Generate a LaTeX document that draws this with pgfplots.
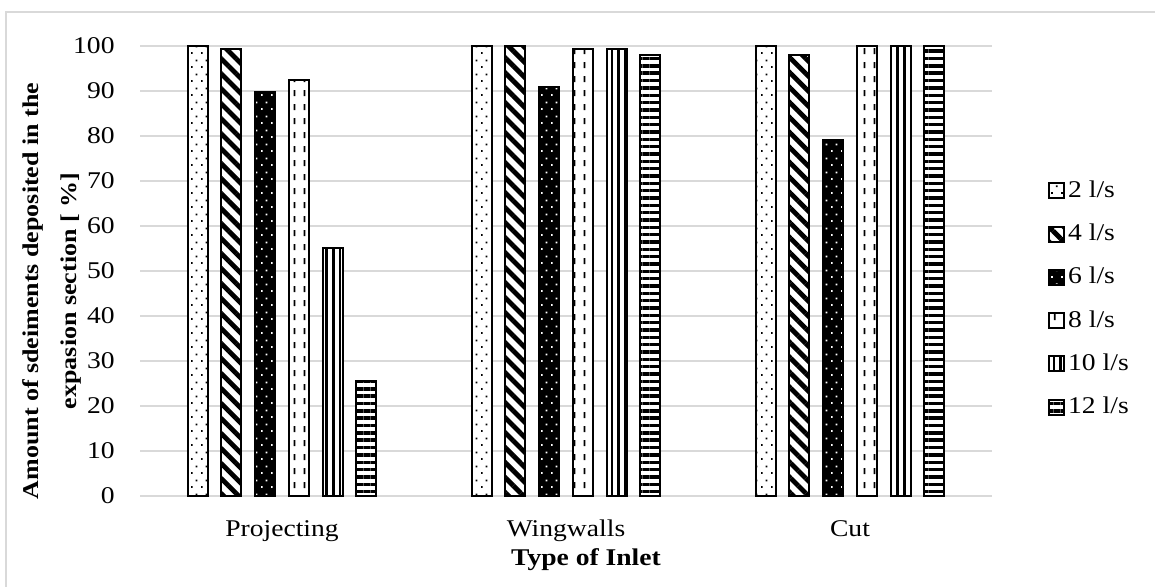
\documentclass[border=0pt]{standalone}
\usepackage{fontspec}
\setmainfont{Liberation Serif}[FakeStretch=1.15]
\usepackage{pgfplots}
\pgfplotsset{compat=1.18}
\usetikzlibrary{patterns.meta}
\definecolor{gridgray}{RGB}{217,217,217}

\tikzdeclarepattern{
  name=stagdots,
  type=uncolored,
  bounding box={(0pt,0pt) and (5pt,7pt)},
  tile size={(5pt,7pt)},
  code={
    \pgfpathrectangle{\pgfpoint{0.6pt}{0.6pt}}{\pgfpoint{0.9pt}{0.9pt}}
    \pgfpathrectangle{\pgfpoint{3.1pt}{4.1pt}}{\pgfpoint{0.9pt}{0.9pt}}
    \pgfusepath{fill}
  }
}
\tikzdeclarepattern{
  name=vdashes,
  type=uncolored,
  bounding box={(0pt,0pt) and (5pt,7pt)},
  tile size={(5pt,7pt)},
  code={
    \pgfpathrectangle{\pgfpoint{2pt}{0.5pt}}{\pgfpoint{1pt}{3.2pt}}
    \pgfusepath{fill}
  }
}

\begin{document}
\fontsize{12}{14}\selectfont
\begin{tikzpicture}
\useasboundingbox (0pt,0pt) rectangle (577.5pt,293.5pt);
\draw[gridgray, line width=0.8pt] (3pt,0pt) -- (3pt,287.5pt) -- (577.5pt,287.5pt);
\begin{axis}[
  at={(70pt,45.5pt)}, anchor=south west,
  scale only axis, width=426pt, height=225pt,
  ybar=6.85pt, bar width=10pt,
  xmin=-0.5, xmax=2.5, ymin=0, ymax=100,
  xtick={0,1,2}, xticklabels={Projecting,Wingwalls,Cut},
  ytick={0,10,...,100},
  ymajorgrids, major grid style={draw=gridgray, line width=0.75pt},
  axis line style={draw=none},
  major tick length=0pt,
  /pgf/number format/assume math mode=true,
  tick label style={font=\fontsize{12}{14}\selectfont},
  yticklabel style={anchor=east, inner sep=0pt, xshift=-12.5pt},
  xticklabel style={anchor=base, inner sep=0pt, yshift=-20.5pt},
  legend style={at={(1.0657,0.4378)}, anchor=west, draw=none, fill=none,
    inner sep=0pt, row sep=8.5pt, font=\fontsize{12}{14}\selectfont,
    nodes={inner sep=1.5pt}},
  legend cell align=left,
  legend image code/.code={\draw[#1, line width=0.9pt] (0pt,-3.75pt) rectangle (7.5pt,3.75pt);},
  every axis plot/.append style={draw=black, line width=1pt},
  clip=false,
]
\addplot[fill=white, postaction={pattern=stagdots, pattern color=black}]
  coordinates {(0,100) (1,100) (2,100)};
\addplot[fill=white, postaction={pattern={Lines[angle=-45, distance=5.3pt, line width=2.4pt]}, pattern color=black}]
  coordinates {(0,99.3) (1,100) (2,98)};
\addplot[fill=black, postaction={pattern=stagdots, pattern color=white}]
  coordinates {(0,89.8) (1,90.9) (2,79)};
\addplot[fill=white, postaction={pattern=vdashes, pattern color=black}]
  coordinates {(0,92.5) (1,99.3) (2,100)};
\addplot[fill=white, postaction={pattern={Lines[angle=90, distance=3.4pt, line width=1.4pt]}, pattern color=black}]
  coordinates {(0,55) (1,99.3) (2,100)};
\addplot[fill=white, postaction={pattern={Lines[angle=0, distance=3.67pt, line width=1.7pt]}, pattern color=black}]
  coordinates {(0,25.5) (1,98) (2,100)};
\legend{2 l/s,4 l/s,6 l/s,8 l/s,10 l/s,12 l/s}
\end{axis}
\node[rotate=90, align=center, font=\bfseries\fontsize{11.3}{19}\selectfont] at (26pt,148pt)
  {Amount of sdeiments deposited in the\\expasion section [ \%]};
\node[anchor=base, font=\bfseries\fontsize{12}{14}\selectfont] at (293pt,10.5pt) {Type of Inlet};
\end{tikzpicture}
\end{document}
